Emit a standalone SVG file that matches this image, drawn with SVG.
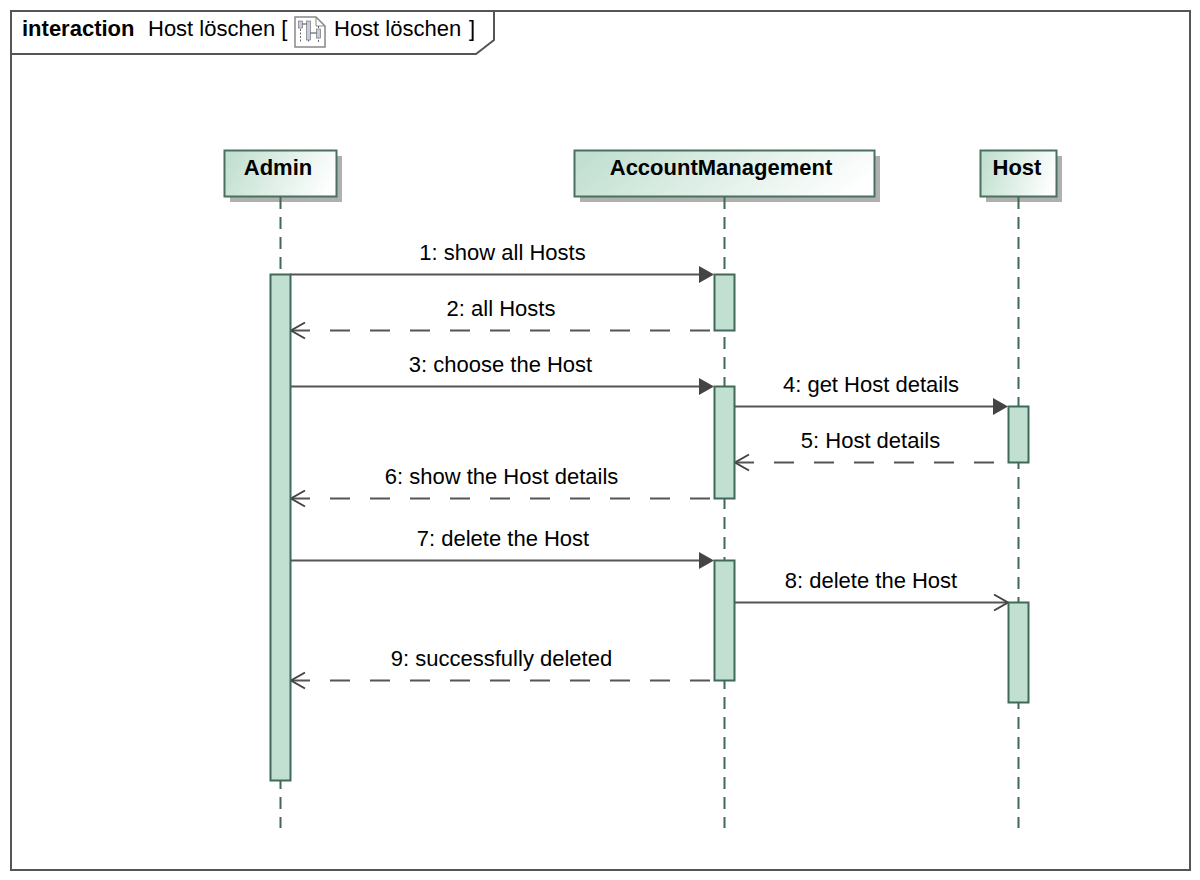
<svg xmlns="http://www.w3.org/2000/svg" width="1200" height="880" viewBox="0 0 1200 880">
<style>
text{font-family:"Liberation Sans",Arial,sans-serif;font-size:22px;fill:#000}
.b{font-weight:bold}
.m{text-anchor:middle}
.frame{fill:none;stroke:#555;stroke-width:2}
.head{stroke:#4a7060;stroke-width:2;fill:url(#g)}
.shadow{fill:#b0b0b0}
.life{stroke:#41695a;stroke-width:2;stroke-dasharray:12 8;fill:none}
.act{fill:#c2e0d1;stroke:#41695a;stroke-width:2}
.msg{stroke:#555;stroke-width:2;fill:none}
.ret{stroke-dasharray:20 20}
.open{fill:none;stroke:#444;stroke-width:2}
.fill{fill:#444;stroke:none}
</style>
<defs>
<linearGradient id="g" x1="0" y1="0.4" x2="1" y2="0.6"><stop offset="0" stop-color="#c2e0d1"/><stop offset="1" stop-color="#fff"/></linearGradient>
</defs>
<rect width="1200" height="880" fill="#fff"/>
<g id="frame">
<rect class="frame" x="11" y="11" width="1179" height="859"/>
<path class="frame" d="M11 54H476L494 40V11"/>
<text class="b" x="22" y="36">interaction</text>
<text x="148" y="36">Host löschen [</text>
<g id="icon">
<path d="M295 17H316L325 26V47H295Z" fill="#fff" stroke="#888" stroke-width="1.5"/>
<path d="M316 17V26H325" fill="none" stroke="#888" stroke-width="1"/>
<path d="M300.500 22V43M308.500 22V43M318.500 26V43" stroke="#666" stroke-width="1" stroke-dasharray="2 1.500" fill="none"/>
<rect x="298.500" y="21" width="4" height="7" fill="#c6cbe0" stroke="#777" stroke-width=".7"/>
<rect x="306.500" y="21" width="4" height="19" fill="#c6cbe0" stroke="#777" stroke-width=".7"/>
<rect x="316.500" y="29" width="4" height="9" fill="#c6cbe0" stroke="#777" stroke-width=".7"/>
<path d="M302.500 24H306.500M310.500 33H316.500" stroke="#444" stroke-width="1" fill="none"/>
</g>
<text x="334" y="36">Host löschen</text>
<text x="469" y="36">]</text>
</g>
<g id="admin">
<rect class="shadow" x="230" y="156" width="112" height="46"/>
<rect class="head" x="224.500" y="150.500" width="112" height="46"/>
<text class="b m" x="278" y="175">Admin</text>
</g>
<g id="accountmanagement">
<rect class="shadow" x="580" y="156" width="300" height="46"/>
<rect class="head" x="574.500" y="150.500" width="300" height="46"/>
<text class="b m" x="721" y="175">AccountManagement</text>
</g>
<g id="host">
<rect class="shadow" x="986" y="156" width="76" height="46"/>
<rect class="head" x="980.500" y="150.500" width="76" height="46"/>
<text class="b m" x="1017" y="175">Host</text>
</g>
<g id="connectors">
<path class="life" d="M280.500 197V828"/>
<path class="life" d="M724.500 197V828"/>
<path class="life" d="M1018.500 197V828"/>
<path class="msg" d="M290 274.500H702"/><path class="fill" d="M714 274.500L699 266V283Z"/>
<path class="msg ret" d="M290 330.500H714"/><path class="open" d="M305 322.500L291 330.500L305 338.500"/>
<path class="msg" d="M290 386.500H702"/><path class="fill" d="M714 386.500L699 378V395Z"/>
<path class="msg" d="M734 406.500H996"/><path class="fill" d="M1008 406.500L993 398V415Z"/>
<path class="msg ret" d="M734 462.500H1008"/><path class="open" d="M749 454.500L735 462.500L749 470.500"/>
<path class="msg ret" d="M290 498.500H714"/><path class="open" d="M305 490.500L291 498.500L305 506.500"/>
<path class="msg" d="M290 560.500H702"/><path class="fill" d="M714 560.500L699 552V569Z"/>
<path class="msg" d="M734 602.500H1007"/><path class="open" d="M994 594.500L1008 602.500L994 610.500"/>
<path class="msg ret" d="M290 680.500H714"/><path class="open" d="M305 672.500L291 680.500L305 688.500"/>
</g>
<g id="activations">
<rect class="act" x="270.500" y="274.500" width="20" height="506"/>
<rect class="act" x="714.500" y="274.500" width="20" height="56"/>
<rect class="act" x="714.500" y="386.500" width="20" height="112"/>
<rect class="act" x="714.500" y="560.500" width="20" height="120"/>
<rect class="act" x="1008.500" y="406.500" width="20" height="56"/>
<rect class="act" x="1008.500" y="602.500" width="20" height="100"/>
</g>
<g id="labels">
<text class="m" x="502.500" y="260">1: show all Hosts</text>
<text class="m" x="501" y="316">2: all Hosts</text>
<text class="m" x="500.500" y="372">3: choose the Host</text>
<text class="m" x="871" y="392">4: get Host details</text>
<text class="m" x="870.500" y="448">5: Host details</text>
<text class="m" x="501.500" y="484">6: show the Host details</text>
<text class="m" x="503" y="546">7: delete the Host</text>
<text class="m" x="871" y="588">8: delete the Host</text>
<text class="m" x="501.500" y="666">9: successfully deleted</text>
</g>
</svg>
